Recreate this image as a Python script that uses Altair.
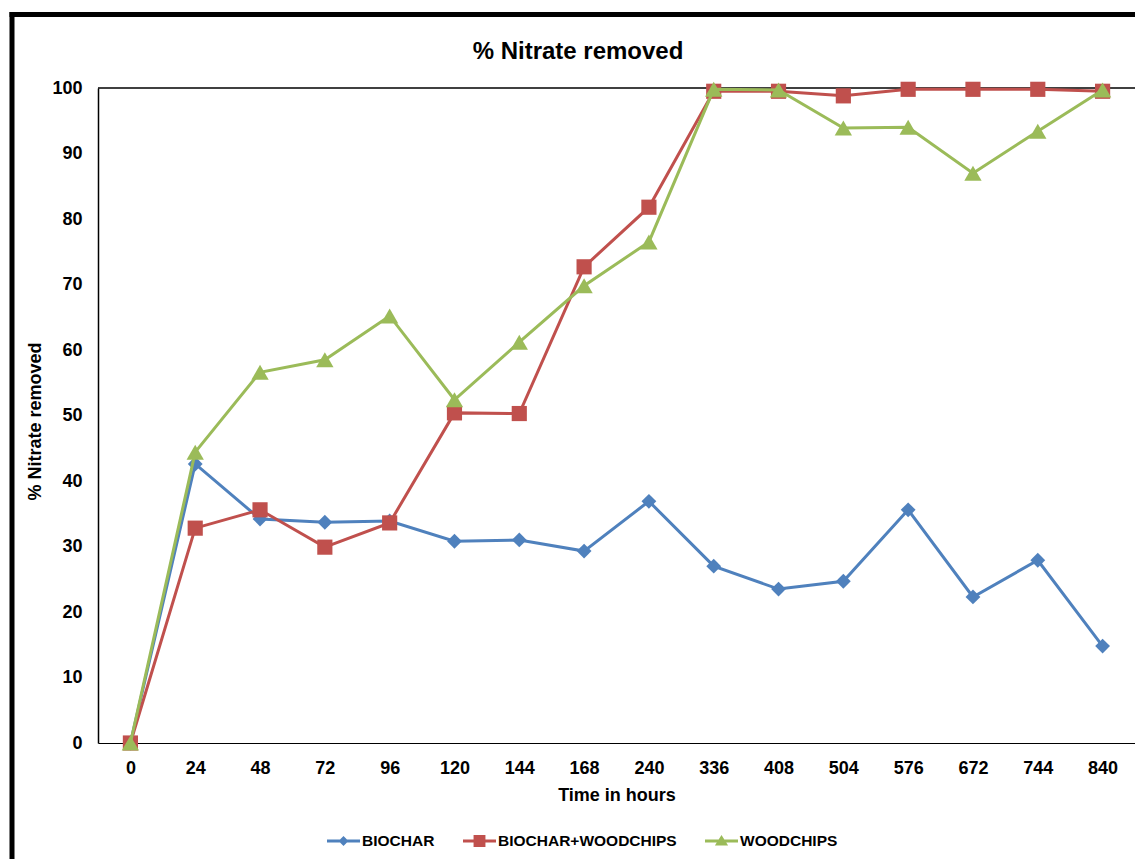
import altair as alt
import pandas as pd

# ---- data ----
times = ["0", "24", "48", "72", "96", "120", "144", "168", "240",
         "336", "408", "504", "576", "672", "744", "840"]
biochar = [0, 42.6, 34.2, 33.7, 33.9, 30.8, 31.0, 29.3, 36.9,
           27.0, 23.5, 24.7, 35.6, 22.3, 27.9, 14.8]
biochar_wood = [0, 32.8, 35.6, 29.9, 33.6, 50.4, 50.3, 72.7, 81.8,
                99.5, 99.5, 98.8, 99.8, 99.8, 99.8, 99.5]
woodchips = [0, 44.4, 56.6, 58.5, 65.2, 52.4, 61.2, 69.8, 76.5,
             99.8, 99.7, 93.9, 94.0, 87.0, 93.4, 99.7]

series_names = ["BIOCHAR", "BIOCHAR+WOODCHIPS", "WOODCHIPS"]
series_values = [biochar, biochar_wood, woodchips]
colors = ["#4F81BD", "#C0504D", "#9BBB59"]
shapes = ["diamond", "square", "triangle-up"]
sizes = [220, 230, 300]

title_text = "% Nitrate removed"
x_title = "Time in hours"
y_title = "% Nitrate removed"

FONT = "Liberation Sans"
W, H = 1037, 655

rows = []
for name, vals in zip(series_names, series_values):
    for t, v in zip(times, vals):
        rows.append({"time": t, "value": v, "series": name})
df = pd.DataFrame(rows)

x_enc = alt.X("time:N", sort=times, title=x_title,
              axis=alt.Axis(labelAngle=0, ticks=False, grid=False,
                            domainColor="black", domainWidth=1,
                            labelFont=FONT, labelFontSize=18, labelFontWeight="bold",
                            labelColor="black", labelPadding=16,
                            titleFont=FONT, titleFontSize=18, titleFontWeight="bold",
                            titleColor="black", titleBaseline="alphabetic", titleY=57))
y_enc = alt.Y("value:Q", title=y_title,
              scale=alt.Scale(domain=[0, 100], nice=False),
              axis=alt.Axis(values=list(range(0, 101, 10)), ticks=False, grid=False,
                            domainColor="black", domainWidth=1.5,
                            labelFont=FONT, labelFontSize=18, labelFontWeight="bold",
                            labelColor="black", labelPadding=16,
                            titleFont=FONT, titleFontSize=18, titleFontWeight="bold",
                            titleColor="black", titleBaseline="alphabetic",
                            titleX=-58, titleY=333, titleAngle=-90))

one = pd.DataFrame({"k": [0]})

# top border of plot area
top_rule = alt.Chart(one).mark_rule(color="black", strokeWidth=1.5).encode(y=alt.datum(100))

layers = [top_rule]
for name, c, shp, sz in zip(series_names, colors, shapes, sizes):
    base = alt.Chart(df).transform_filter(alt.datum.series == name)
    line = base.mark_line(color=c, strokeWidth=3).encode(x=x_enc, y=y_enc)
    pts = base.mark_point(shape=shp, size=sz, filled=True, color=c, opacity=1).encode(x=x_enc, y=y_enc)
    layers += [line, pts]

# legend (symbols = line segment + marker)
legend_paths = [
    "M-1,-0.09H1V0.09H-1Z M0,-0.3L0.3,0L0,0.3L-0.3,0Z",
    "M-1,-0.09H1V0.09H-1Z M-0.36,-0.36H0.36V0.36H-0.36Z",
    "M-1,-0.09H1V0.09H-1Z M0,-0.36L0.4,0.28H-0.4Z",
]
leg = alt.Legend(title=None, orient="none", legendX=229, legendY=736.5,
                 direction="horizontal", columns=3, padding=0,
                 symbolSize=1089, symbolStrokeWidth=0, labelOffset=2,
                 columnPadding=28, labelLimit=0, labelFont=FONT, labelFontSize=15.5,
                 labelFontWeight="bold", labelColor="black")
legend_layer = alt.Chart(df).transform_filter("false").mark_point(filled=True, opacity=1).encode(
    x=x_enc, y=y_enc,
    color=alt.Color("series:N", sort=series_names,
                    scale=alt.Scale(domain=series_names, range=colors), legend=leg),
    shape=alt.Shape("series:N", sort=series_names,
                    scale=alt.Scale(domain=series_names, range=legend_paths), legend=leg),
)
layers.append(legend_layer)

# chart title as text
title_layer = alt.Chart(pd.DataFrame({"t": [title_text]})).mark_text(
    font=FONT, fontSize=24, fontWeight="bold", color="black",
    align="center", baseline="middle"
).encode(text="t:N", x=alt.value(480), y=alt.value(-36))
layers.append(title_layer)

# outer frame (left and top edges)
frame_left = alt.Chart(one).mark_rule(color="black", strokeWidth=5).encode(
    x=alt.value(-86), y=alt.value(-76), y2=alt.value(780))
frame_top = alt.Chart(one).mark_rule(color="black", strokeWidth=5).encode(
    y=alt.value(-73.5), x=alt.value(-88.5), x2=alt.value(W + 10))
layers += [frame_left, frame_top]

chart = alt.layer(*layers).properties(
    width=W, height=H,
    autosize=alt.AutoSizeParams(type="none"),
    padding={"left": 98, "top": 88, "right": 0, "bottom": 116},
    background="white",
).configure_view(stroke=None)

chart.save("out.html", embed_options={"renderer": "svg", "actions": False})
